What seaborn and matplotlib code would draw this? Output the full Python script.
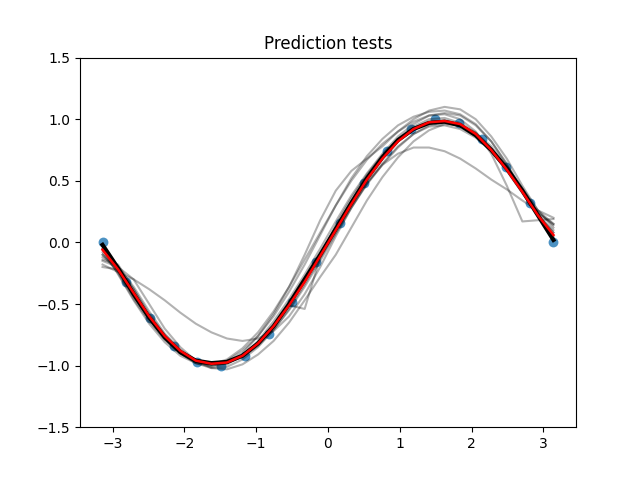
import numpy as np
import matplotlib
matplotlib.use('Agg')
import matplotlib.pyplot as plt
import seaborn as sns

# training points (20 points from -pi to pi)
x_pts = [-3.1416, -2.8109, -2.4802, -2.1495, -1.8188, -1.4881, -1.1574, -0.8267, -0.4960, -0.1653,
         0.1653, 0.4960, 0.8267, 1.1574, 1.4881, 1.8188, 2.1495, 2.4802, 2.8109, 3.1416]
y_obs = [0.00, -0.32, -0.61, -0.84, -0.97, -1.00, -0.92, -0.74, -0.48, -0.16,
         0.16, 0.48, 0.74, 0.92, 1.00, 0.97, 0.84, 0.61, 0.32, 0.00]

# test grid (30 points from -pi to pi)
x_test = [-3.1416, -2.9249, -2.7083, -2.4916, -2.2750, -2.0583, -1.8417, -1.6250, -1.4083, -1.1917,
          -0.9750, -0.7583, -0.5417, -0.3250, -0.1083, 0.1083, 0.3250, 0.5417, 0.7583, 0.9750,
          1.1917, 1.4083, 1.6250, 1.8417, 2.0583, 2.2750, 2.4916, 2.7083, 2.9249, 3.1416]

# individual test predictions (gray)
preds = [
    [-0.18, -0.24, -0.30, -0.38, -0.47, -0.57, -0.66, -0.73, -0.78, -0.80,
     -0.78, -0.72, -0.60, -0.42, -0.20, 0.05, 0.28, 0.48, 0.63, 0.72,
     0.77, 0.77, 0.74, 0.68, 0.60, 0.51, 0.43, 0.34, 0.26, 0.20],
    [-0.12, -0.20, -0.36, -0.56, -0.74, -0.87, -0.96, -1.00, -0.98, -0.90,
     -0.76, -0.58, -0.36, -0.10, 0.18, 0.42, 0.58, 0.68, 0.78, 0.90,
     1.00, 1.07, 1.10, 1.08, 1.00, 0.86, 0.68, 0.46, 0.26, 0.12],
    [-0.10, -0.24, -0.44, -0.62, -0.78, -0.90, -0.97, -1.00, -0.98, -0.92,
     -0.82, -0.68, -0.51, -0.54, -0.12, 0.14, 0.36, 0.55, 0.71, 0.84,
     0.93, 0.98, 0.99, 0.96, 0.88, 0.76, 0.60, 0.42, 0.22, 0.08],
    [-0.14, -0.18, -0.38, -0.60, -0.77, -0.90, -0.98, -1.01, -0.99, -0.92,
     -0.80, -0.64, -0.46, -0.26, -0.05, 0.17, 0.38, 0.56, 0.72, 0.86,
     0.96, 1.03, 1.04, 1.00, 0.90, 0.72, 0.46, 0.17, 0.18, 0.19],
    [-0.15, -0.20, -0.30, -0.50, -0.70, -0.85, -0.96, -1.02, -1.03, -0.99,
     -0.91, -0.80, -0.65, -0.47, -0.28, -0.10, 0.12, 0.34, 0.53, 0.69,
     0.82, 0.91, 0.96, 0.95, 0.89, 0.78, 0.62, 0.44, 0.26, 0.15],
    [-0.05, -0.26, -0.47, -0.66, -0.81, -0.92, -0.98, -0.99, -0.95, -0.86,
     -0.73, -0.56, -0.36, -0.14, 0.08, 0.30, 0.50, 0.67, 0.80, 0.90,
     0.98, 1.03, 1.05, 1.03, 0.95, 0.82, 0.64, 0.42, 0.22, 0.10],
    [-0.10, -0.20, -0.40, -0.60, -0.77, -0.90, -0.98, -1.02, -1.01, -0.95,
     -0.85, -0.71, -0.54, -0.34, -0.13, 0.08, 0.29, 0.48, 0.64, 0.78,
     0.88, 0.94, 0.95, 0.92, 0.85, 0.74, 0.58, 0.40, 0.22, 0.08],
    [-0.05, -0.23, -0.43, -0.61, -0.77, -0.88, -0.96, -0.99, -0.98, -0.92,
     -0.82, -0.68, -0.51, -0.31, -0.10, 0.12, 0.33, 0.53, 0.70, 0.84,
     0.94, 1.00, 1.01, 0.97, 0.89, 0.76, 0.60, 0.42, 0.22, 0.05],
    [-0.20, -0.22, -0.38, -0.58, -0.75, -0.88, -0.96, -0.99, -0.98, -0.93,
     -0.84, -0.71, -0.55, -0.36, -0.15, 0.07, 0.28, 0.47, 0.63, 0.77,
     0.88, 0.95, 0.97, 0.95, 0.88, 0.76, 0.60, 0.42, 0.24, 0.15],
    [-0.08, -0.25, -0.46, -0.64, -0.79, -0.90, -0.97, -0.99, -0.96, -0.88,
     -0.76, -0.60, -0.40, -0.18, 0.06, 0.30, 0.52, 0.70, 0.84, 0.95,
     1.02, 1.06, 1.07, 1.04, 0.96, 0.82, 0.63, 0.42, 0.24, 0.14],
]

# aggregated prediction (black) and reference fit (red)
y_black = [-0.02, -0.21, -0.42, -0.61, -0.77, -0.89, -0.96, -0.98, -0.97, -0.92,
           -0.82, -0.68, -0.50, -0.30, -0.10, 0.11, 0.32, 0.52, 0.69, 0.83,
           0.92, 0.97, 0.98, 0.95, 0.87, 0.75, 0.60, 0.42, 0.22, 0.02]
y_red = [-0.06, -0.22, -0.41, -0.60, -0.76, -0.88, -0.96, -0.985, -0.975, -0.92,
         -0.82, -0.68, -0.51, -0.32, -0.11, 0.10, 0.31, 0.51, 0.68, 0.82,
         0.92, 0.975, 0.985, 0.96, 0.88, 0.75, 0.59, 0.41, 0.22, 0.06]

fig, ax = plt.subplots(figsize=(6.4, 4.8), dpi=100)

sns.scatterplot(x=x_pts, y=y_obs, ax=ax, s=50, color='C0', alpha=0.8,
                linewidth=0, zorder=1)

for p in preds:
    sns.lineplot(x=x_test, y=p, ax=ax, color='black', alpha=0.3, linewidth=1.5,
                 sort=False, estimator=None, zorder=2)

sns.lineplot(x=x_test, y=y_black, ax=ax, color='black', linewidth=3,
             sort=False, estimator=None, zorder=3)
sns.lineplot(x=x_test, y=y_red, ax=ax, color='red', linewidth=1.8,
             sort=False, estimator=None, zorder=4)

ax.set_ylim(-1.5, 1.5)
ax.set_title('Prediction tests')

fig.savefig('out.png', dpi=100)
